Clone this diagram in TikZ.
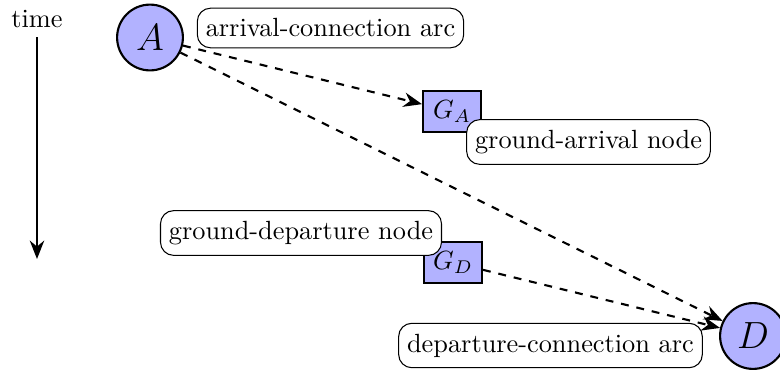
\documentclass[tikz,border=0pt]{standalone}
\usetikzlibrary{arrows.meta}
\begin{document}
\begin{tikzpicture}[x=0.38pt,y=-0.38pt,
  event/.style={circle,draw,thick,fill=blue!30,minimum size=25pt,inner sep=0pt,font=\Large},
  ground/.style={rectangle,draw,thick,fill=blue!30,minimum width=22pt,minimum height=15.5pt,inner sep=2pt},
  tag/.style={rectangle,rounded corners=5pt,draw,fill=white,inner xsep=3.2pt,inner ysep=4pt},
  conn/.style={thick,dashed,-{Stealth[length=7pt,width=5.5pt]}}]
\useasboundingbox (0,0) rectangle (780,375);

% time axis
\node (t) at (37,19) {time};
\coordinate (t0) at (37,37);
\coordinate (t1) at (37,259);
\draw[thick,-{Stealth[length=7pt,width=5.5pt]}] (t0) -- (t1);

% event and ground nodes
\node[event] (A) at (150,37.5) {$A$};
\node[event] (D) at (753,336) {$D$};
\node[ground] (GA) at (452,111.5) {$G_A$};
\node[ground] (GD) at (453,262.5) {$G_D$};

% connections
\draw[conn] (A) -- (GA);
\draw[conn] (A) -- (D);
\draw[conn] (GD) -- (D);

% labels
\node[tag] (la) at (330.5,28) {arrival-connection arc};
\node[tag] (lga) at (588.5,142) {ground-arrival node};
\node[tag] (lgd) at (301,233) {ground-departure node};
\node[tag] (ld) at (550.5,345.5) {departure-connection arc};
\end{tikzpicture}
\end{document}
